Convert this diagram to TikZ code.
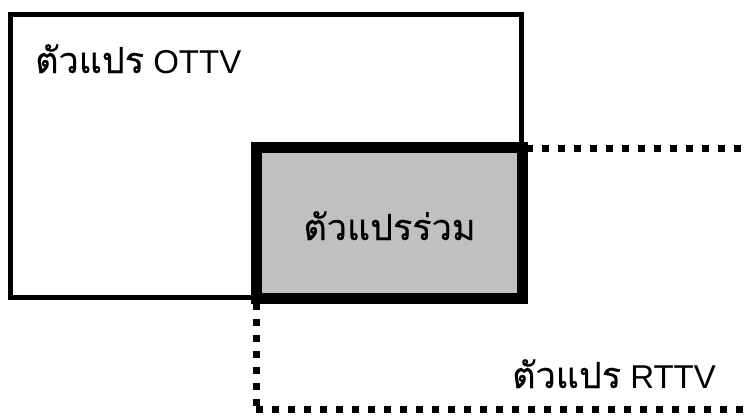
\documentclass[tikz,border=0pt]{standalone}
\usepackage{fontspec}
\setmainfont{Liberation Sans}
\newfontfamily\thaifont[Script=Thai,Scale=1.09,FakeBold=0.4]{Loma}
\begin{document}
\begin{tikzpicture}[x=1pt,y=-1pt,
  ottvbox/.style={draw=black,line width=5pt,fill=white,inner sep=0pt,outer sep=0pt,
    minimum width=510.5pt,minimum height=283pt},
  commonbox/.style={draw=black,line width=11pt,fill={rgb,255:red,192;green,192;blue,192},
    inner sep=0pt,outer sep=0pt,minimum width=265.5pt,minimum height=151pt},
  rttvbox/.style={draw=black,line width=7pt,dash pattern=on 7pt off 9pt,
    inner sep=0pt,outer sep=0pt,minimum width=600pt,minimum height=261pt},
  lbl/.style={inner sep=0pt,font=\fontsize{33}{38}\selectfont}]
\useasboundingbox (0,0) rectangle (744,415);
\clip (0,0) rectangle (744,415);
\node[rttvbox] (rttv) at (556,278.5) {};
\node[ottvbox] (ottv) at (265.75,156) {};
\node[commonbox] (common) at (389.25,223) {};
\node[lbl,anchor=base west] (lottv) at (35,73) {{\thaifont ตัวแปร} OTTV};
\node[lbl,anchor=base] (lcommon) at (389.5,240) {{\thaifont ตัวแปรร่วม}};
\node[lbl,anchor=base west] (lrttv) at (512,388) {{\thaifont ตัวแปร} RTTV};
\end{tikzpicture}
\end{document}
